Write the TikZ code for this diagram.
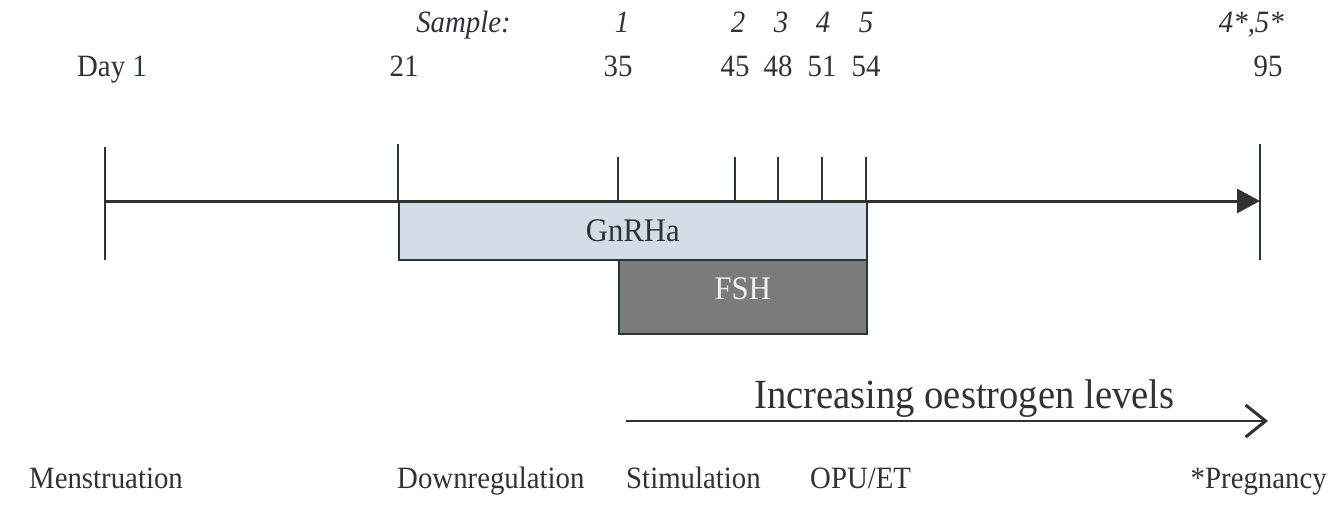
\documentclass[tikz,border=0pt]{standalone}
\usepackage{fontspec}
\setmainfont{Liberation Serif}[FakeStretch=0.93]
\usetikzlibrary{arrows.meta}
\definecolor{ink}{HTML}{2E3333}
\definecolor{gnfill}{HTML}{D5DCE7}
\definecolor{fshfill}{HTML}{7A7B7B}
\tikzset{
  lbl/.style={font=\fontsize{31}{36}\selectfont, text=ink, inner sep=0pt, anchor=base},
  smp/.style={lbl, font=\fontsize{31}{36}\selectfont\itshape},
  tick/.style={draw=ink, line width=2pt},
  axis/.style={draw=ink, line width=3pt, -{Triangle[length=23pt,width=24pt]}},
  bar/.style={draw=ink, line width=1.6pt, anchor=north west, inner sep=0pt},
  oarrow/.style={draw=ink, line width=2.6pt, -{Straight Barb[length=20pt,width=32pt,line width=3pt]}}
}
\begin{document}
\begin{tikzpicture}[x=1pt,y=-1pt]
\useasboundingbox (0,0) rectangle (1338,508);
% sample row
\node[smp, anchor=base east] (samp) at (511,33) {Sample:};
\node[smp] (s1) at (622,33) {1};
\node[smp] (s2) at (738,33) {2};
\node[smp] (s3) at (781,33) {3};
\node[smp] (s4) at (823,33) {4};
\node[smp] (s5) at (866,33) {5};
\node[smp, anchor=base east] (s45) at (1284,33) {4*,5*};
% day row
\node[lbl] (d1) at (112,77) {Day 1};
\node[lbl] (d21) at (404,77) {21};
\node[lbl] (d35) at (618,77) {35};
\node[lbl] (d45) at (735,77) {45};
\node[lbl] (d48) at (778,77) {48};
\node[lbl] (d51) at (822,77) {51};
\node[lbl] (d54) at (866,77) {54};
\node[lbl] (d95) at (1268,77) {95};
% boxes
\node[bar, fill=gnfill, minimum width=468pt, minimum height=58pt] (gn) at (398,201) {};
\node[lbl, anchor=center, font=\fontsize{33}{38}\selectfont] (gntext) at (gn.center) {GnRHa};
\node[bar, fill=fshfill, minimum width=248pt, minimum height=74pt] (fsh) at (618,259) {};
\node[lbl, anchor=center, font=\fontsize{33}{38}\selectfont, text=white!94!black] (fshtext) at ([yshift=8pt]fsh.center) {FSH};
% ticks
\coordinate (a1) at (105,147); \coordinate (b1) at (105,260);
\coordinate (a21) at (398,144); \coordinate (b21) at (398,201);
\coordinate (a35) at (618,157); \coordinate (b35) at (618,201);
\coordinate (a45) at (735,157); \coordinate (b45) at (735,201);
\coordinate (a48) at (778,157); \coordinate (b48) at (778,201);
\coordinate (a51) at (822,157); \coordinate (b51) at (822,201);
\coordinate (a54) at (866,157); \coordinate (b54) at (866,201);
\coordinate (a95) at (1260,144); \coordinate (b95) at (1260,260);
\foreach \t in {1,21,35,45,48,51,54,95}{\draw[tick] (a\t) -- (b\t);}
% axis
\coordinate (axs) at (105,201);
\coordinate (axe) at (1260,201);
\draw[axis] (axs) -- (axe);
% oestrogen arrow
\node[lbl, font=\fontsize{41.5}{48}\selectfont, anchor=base west] (oes) at (754,408) {Increasing oestrogen levels};
\coordinate (oa) at (626,421);
\coordinate (ob) at (1268,421);
\draw[oarrow] (oa) -- (ob);
% bottom labels
\node[lbl] (men) at (106,488) {Menstruation};
\node[lbl, anchor=base west] (down) at (397,488) {Downregulation};
\node[lbl, anchor=base west] (stim) at (626,488) {Stimulation};
\node[lbl, anchor=base west] (opu) at (810,488) {OPU/ET};
\node[lbl, anchor=base east] (preg) at (1327,488) {*Pregnancy};
\end{tikzpicture}
\end{document}
